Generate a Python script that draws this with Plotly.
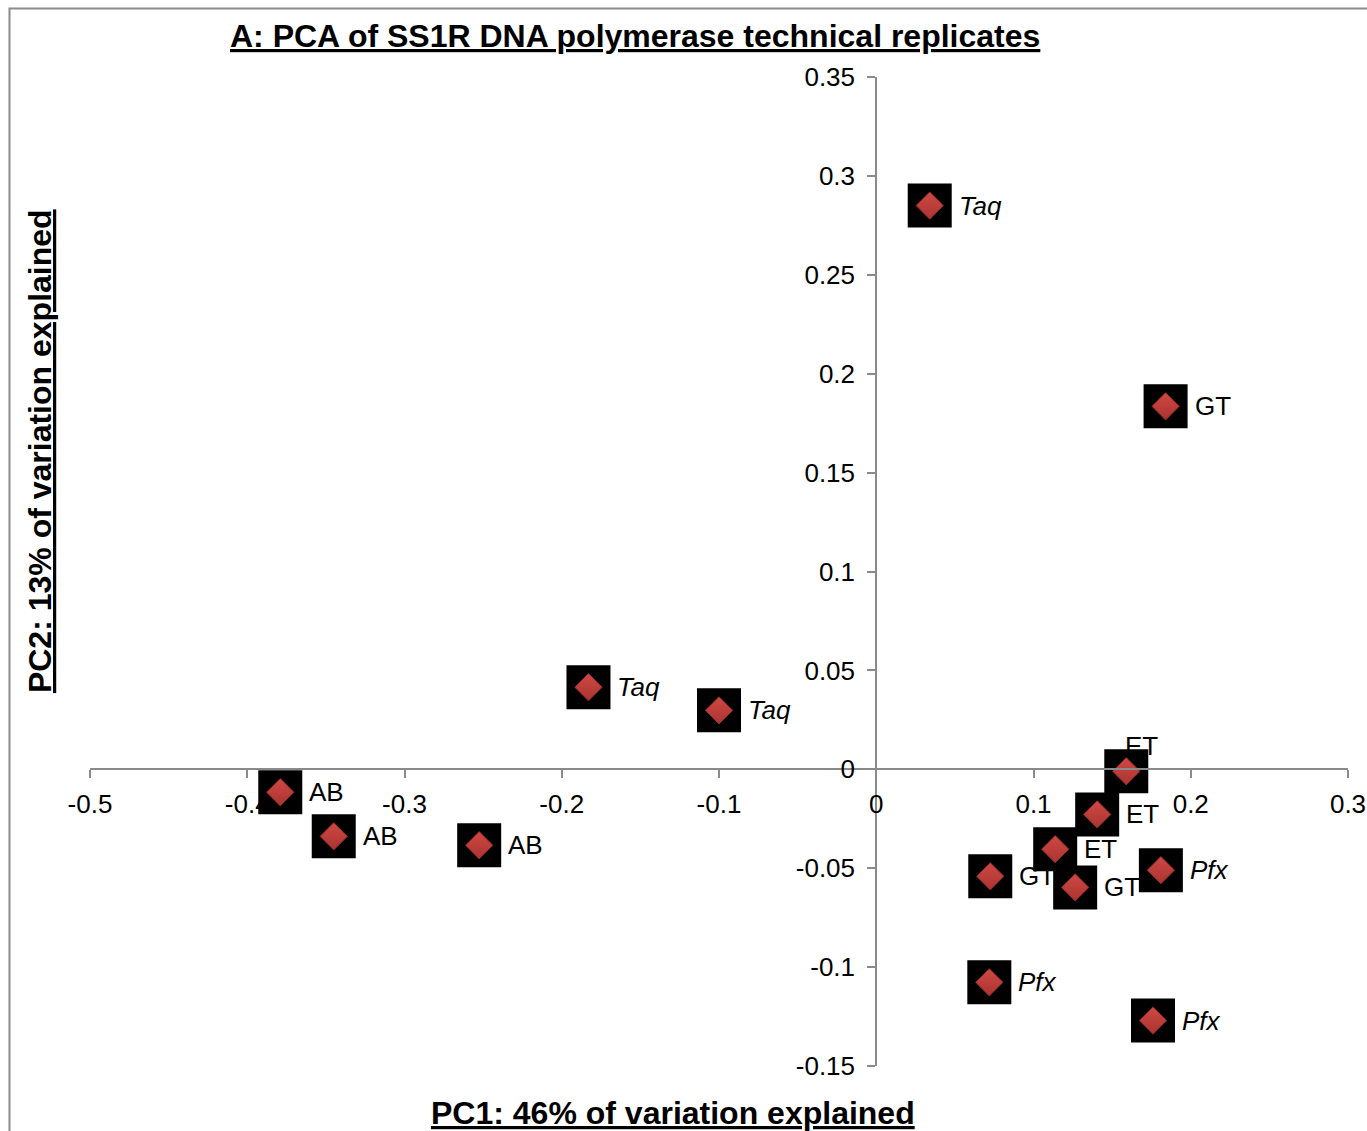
import plotly.graph_objects as go

# PCA scores of the SS1R technical replicates, grouped by polymerase
labels = ["Taq", "Taq", "Taq", "GT", "GT", "GT", "ET", "ET", "ET",
          "Pfx", "Pfx", "Pfx", "AB", "AB", "AB"]
pc1 = [0.034, -0.183, -0.100, 0.184, 0.0725, 0.1265, 0.159, 0.1405, 0.1138,
       0.181, 0.0719, 0.176, -0.379, -0.345, -0.2525]
pc2 = [0.285, 0.0415, 0.0298, 0.1835, -0.0541, -0.0597, -0.001, -0.0228, -0.0404,
       -0.051, -0.1077, -0.127, -0.0116, -0.0339, -0.0384]

italic_labels = {"Taq", "Pfx"}

x_tickvals = [-0.5, -0.4, -0.3, -0.2, -0.1, 0, 0.1, 0.2, 0.3]
x_ticktext = ["-0.5", "-0.4", "-0.3", "-0.2", "-0.1", "0", "0.1", "0.2", "0.3"]
y_tickvals = [0.35, 0.3, 0.25, 0.2, 0.15, 0.1, 0.05, 0, -0.05, -0.1, -0.15]
y_ticktext = ["0.35", "0.3", "0.25", "0.2", "0.15", "0.1", "0.05", "0",
              "-0.05", "-0.1", "-0.15"]

FONT = "Liberation Sans, Arial, sans-serif"
AXIS_GRAY = "#8a8a8a"

fig = go.Figure()

# black square backdrop behind each point
fig.add_trace(go.Scatter(
    x=pc1, y=pc2, mode="markers", hoverinfo="skip",
    marker=dict(symbol="square", size=44, color="black", line=dict(width=0)),
    cliponaxis=False, showlegend=False,
))
# red diamond on top
fig.add_trace(go.Scatter(
    x=pc1, y=pc2, mode="markers", text=labels,
    marker=dict(symbol="diamond", size=21, color="#d04843",
                gradient=dict(type="vertical", color="#a93431"),
                line=dict(width=1, color="#8e2a27")),
    cliponaxis=False, showlegend=False,
))

# point labels: right of the marker, except the topmost ET which sits above it
label_offsets = {6: dict(xanchor="center", xshift=15, yshift=25)}
annotations = []
for i, (lab, xv, yv) in enumerate(zip(labels, pc1, pc2)):
    txt = f"<i>{lab}</i>" if lab in italic_labels else lab
    place = label_offsets.get(i, dict(xanchor="left", xshift=27, yshift=0))
    annotations.append(dict(
        x=xv, y=yv, xref="x", yref="y", text=txt, showarrow=False,
        yanchor="middle", font=dict(family=FONT, size=26, color="black"),
        **place))

# chart title and axis titles (bold, underlined)
title_font = dict(family=FONT, size=32, color="black", weight="bold",
                  lineposition="under")
annotations.append(dict(
    text="A: PCA of SS1R DNA polymerase technical replicates",
    xref="paper", yref="paper", x=0.4332, y=1.0415, xanchor="center",
    yanchor="middle", showarrow=False, font=title_font))
annotations.append(dict(
    text="PC1: 46% of variation explained",
    xref="paper", yref="paper", x=0.4634, y=-0.0475, xanchor="center",
    yanchor="middle", showarrow=False, font=title_font))
annotations.append(dict(
    text="PC2: 13% of variation explained", textangle=-90,
    xref="paper", yref="paper", x=-0.0397, y=0.6218, xanchor="center",
    yanchor="middle", showarrow=False, font=title_font))

# outer chart frame
shapes = [dict(type="rect", xref="paper", yref="paper",
               x0=-0.064, x1=1.03, y0=-0.08, y1=1.0693,
               line=dict(color="#8c8c8c", width=2), fillcolor="rgba(0,0,0,0)",
               layer="below")]

fig.update_layout(
    width=1367, height=1131,
    margin=dict(l=90, r=19, t=77, b=65, autoexpand=False),
    paper_bgcolor="white", plot_bgcolor="white",
    font=dict(family=FONT, size=26, color="black"),
    annotations=annotations, shapes=shapes,
    xaxis=dict(range=[-0.5, 0.3], tickvals=x_tickvals, ticktext=x_ticktext,
               showgrid=False, zeroline=False, showline=True,
               linecolor=AXIS_GRAY, linewidth=2, automargin=False,
               ticks="outside", ticklen=8, tickwidth=2, tickcolor=AXIS_GRAY,
               anchor="free", position=0.3, ticklabelstandoff=3,
               tickfont=dict(family=FONT, size=26, color="black")),
    yaxis=dict(range=[-0.15, 0.35], tickvals=y_tickvals, ticktext=y_ticktext,
               showgrid=False, zeroline=False, showline=True,
               linecolor=AXIS_GRAY, linewidth=2, automargin=False,
               ticks="outside", ticklen=8, tickwidth=2, tickcolor=AXIS_GRAY,
               anchor="free", position=0.625, ticklabelstandoff=7,
               tickfont=dict(family=FONT, size=26, color="black")),
)

fig.write_html("out.html")
